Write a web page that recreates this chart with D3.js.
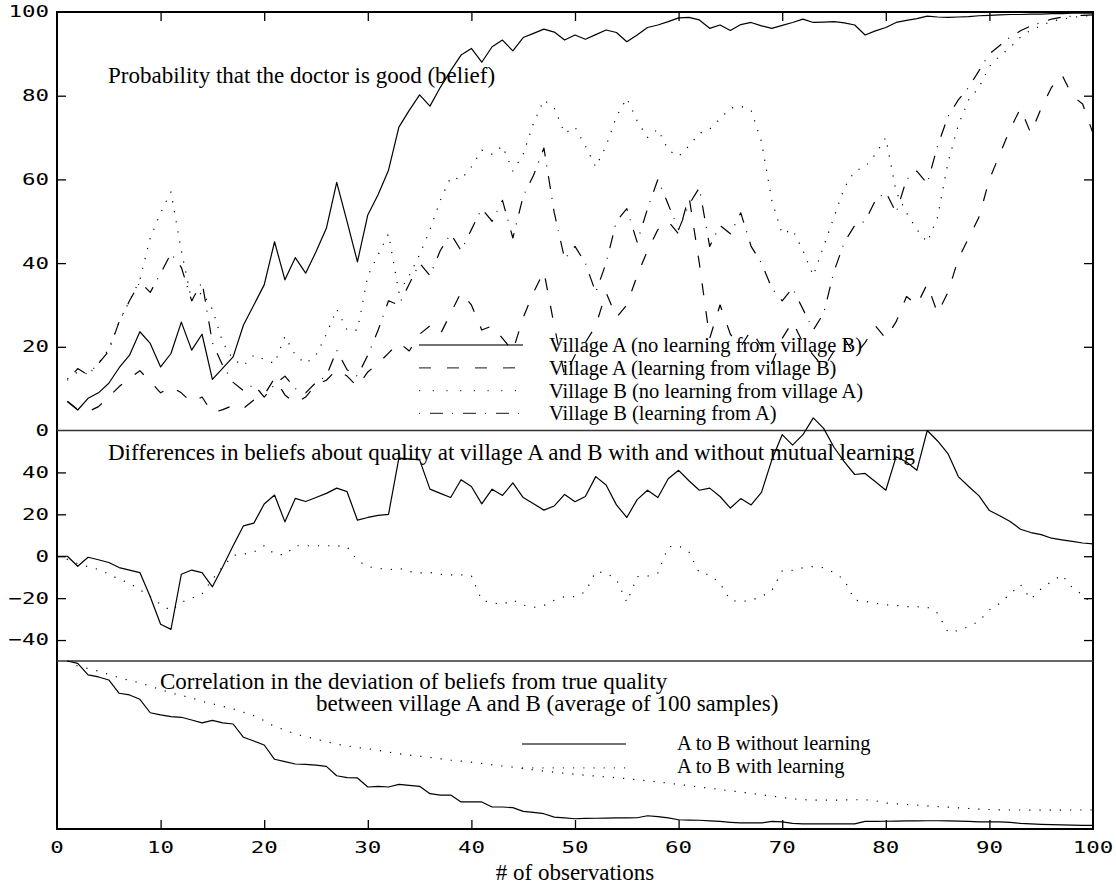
<!DOCTYPE html>
<html><head><meta charset="utf-8">
<script src="https://cdn.jsdelivr.net/npm/d3@7"></script>
<style>body{margin:0;background:#fff}svg{display:block}</style>
</head><body><svg id="c" width="1116" height="886"></svg>
<script>
// ---------------- data ----------------
const observations = d3.range(0, 101);
const xTickValues = [0,10,20,30,40,50,60,70,80,90,100];
const topTickValues = [0,20,40,60,80,100];
const midTickValues = [-40,-20,0,20,40];

const villageA_noLearning = [null,6.9,4.9,7.7,9,11.3,15,18,23.6,20.8,15.2,18.4,25.9,19.2,23,12.2,14.9,17.6,25.2,30,34.8,45.1,36,41.3,37.6,42.7,48.3,59.3,49.9,40.3,51.5,56.4,62.2,72.5,76.5,80.2,77.5,82,86,89.7,91.3,88,91.7,93.3,90.7,93.9,94.9,95.9,95.2,93.3,94.5,93.5,94.6,95.7,95.1,92.9,94.5,96.3,96.9,97.7,98.6,98.7,98.1,96.1,96.9,95.6,97,97.5,96.7,96.1,96.8,97.5,98.3,97.5,97.6,97.7,97.4,96.9,94.5,95.5,96.3,97.5,98,98.4,99,98.8,98.7,98.8,98.9,99.1,99.2,99.3,99.4,99.4,99.5,99.5,99.6,99.6,99.7,99.7,99.7];
const villageA_learning = [null,7,5,4.5,5.7,8,10.5,12.5,14.3,11.7,9,10.5,9,6.7,8,4.2,5,6,5.3,7.3,8.5,12.5,8.5,6.5,8,11,12,14.5,13,10.5,14,16,18.5,21,19,23,25,23,28,33,30,24,25,22,19,27,33,38,25,13,18,21,25,33,27,30,37,43,48,50,47,56,40,22,30,23,20,24,20,16,22,26,21,18,15,19,22,18,21,25,22,26,32,30,35,28,33,41,46,51,60,66,72,77,71,77,82,85,80,78,71];
const villageB_noLearning = [null,12.3,14,13.5,16,19.5,26,31,36,46,52,57,43,31,33,29,21,17,15.5,18,17,16,22.5,18,16,18,23,29,24,24,37,42,47,33,37,42,48,55,60.5,60,63,67,66,68,62,66,73.5,79,77,71,72.5,68,63,68,75,79.4,74,70,72,67,65.5,68,71,72,74.5,77,77.5,76.5,69,55,47,48,43,37,44,51,58,62,63,66,70,57,52,48,45,51,64,73,79,82,87,89.5,91.5,94,95.7,96.7,97.8,98.3,98.7,99,99.2];
const villageB_learning = [null,12,14.8,13.3,16,19,26,31,35.5,33,37.5,42.3,39,31,35.5,21,15.5,11.5,9.5,11,8,11,13,10,9,11.5,13,19.2,14.5,13,18,24,31,30,35,40,37,43,47,43,48,53,50,55,46,56,61,67.5,52,41,44,40,33,40,50,53,45,53,60,54,48,54,58,44,49,47,52,44,40,34,31,34,29,24,28,38,45,49,50,55,57,52,60,62,59,68,75,79,82,86,90,92,94,95.5,96.7,97.5,98.3,98.8,99,99.2,99.3];

const diffNoLearning = [0,0,-4.8,-0.5,-1.7,-3,-5.4,-6.6,-7.8,-19.3,-32.5,-34.9,-8.6,-6.6,-7.8,-14.6,-5,5,14.5,15.8,24.9,29.2,16.4,27.6,26.1,28,30,32.5,30.8,17.2,18.5,19.5,20,46.8,46.5,46,32,30,28,36.5,33.3,25,32,29,35,28,25,22,24,29.5,26,28.5,38,34,24.5,18.5,27,31.5,28,37,41,36,31.5,32.5,28.5,23,27.5,24.5,30.5,46,58,53,58,66,61,52,45,39,39.5,35.5,31.5,47.5,45,41,60,55,49,38,33.3,28.8,21.8,19.3,16.6,12.9,11.3,10.3,8.6,7.8,7.1,6.3,5.9];
const diffLearning = [0,-1.5,-3.5,-5,-6.3,-8.5,-11,-12.8,-16,-19.3,-23,-26,-22,-20,-18,-11,-5,0.4,1,2,5,1,0.6,5,5,5,5,5,4.5,-2,-5,-5.7,-6.5,-5.7,-7.3,-8,-7.8,-8.6,-8.9,-8.9,-9.4,-21,-22.2,-23,-20.9,-23.3,-24.4,-23.5,-21,-19.3,-19.3,-17,-7.3,-8,-11,-22,-9.7,-9.5,-8,4.5,5,2,-8,-8.9,-13,-21,-21.7,-21,-19.3,-16.4,-7,-6.7,-5.5,-4.9,-5.5,-7.8,-11.3,-21,-21.5,-22.5,-23.2,-23.5,-24,-24.1,-24.3,-27.2,-36.2,-35.5,-33.5,-31,-25.6,-22.5,-18,-13.5,-20.5,-15.5,-12.1,-8.9,-15,-18.5,-23];

const corrNoLearning = [null,1.0,0.986,0.917,0.905,0.887,0.808,0.798,0.772,0.692,0.679,0.669,0.665,0.649,0.632,0.647,0.632,0.625,0.546,0.524,0.5,0.415,0.401,0.387,0.385,0.38,0.373,0.317,0.306,0.304,0.25,0.254,0.25,0.266,0.26,0.254,0.21,0.202,0.202,0.161,0.161,0.161,0.131,0.131,0.127,0.105,0.099,0.091,0.071,0.066,0.061,0.063,0.064,0.065,0.066,0.066,0.067,0.079,0.074,0.066,0.055,0.053,0.052,0.048,0.045,0.04,0.036,0.036,0.036,0.045,0.042,0.034,0.03,0.03,0.03,0.03,0.03,0.031,0.045,0.045,0.046,0.047,0.048,0.048,0.049,0.049,0.048,0.047,0.045,0.043,0.042,0.042,0.039,0.033,0.031,0.028,0.026,0.024,0.023,0.022,0.021];
const corrLearning = [null,1.0,0.97,0.955,0.94,0.92,0.9,0.885,0.87,0.85,0.83,0.81,0.795,0.78,0.76,0.745,0.73,0.715,0.695,0.675,0.645,0.61,0.59,0.565,0.55,0.535,0.52,0.505,0.495,0.485,0.478,0.468,0.458,0.448,0.44,0.433,0.426,0.418,0.41,0.404,0.398,0.39,0.382,0.375,0.368,0.36,0.352,0.345,0.338,0.332,0.326,0.32,0.315,0.31,0.305,0.3,0.293,0.287,0.28,0.273,0.265,0.258,0.25,0.243,0.235,0.227,0.22,0.212,0.204,0.196,0.188,0.18,0.175,0.172,0.172,0.172,0.173,0.174,0.174,0.168,0.155,0.15,0.146,0.142,0.138,0.134,0.13,0.126,0.122,0.118,0.116,0.114,0.113,0.113,0.112,0.112,0.112,0.113,0.113,0.113,0.113];

const topLegend = ["Village A (no learning from village B)","Village A (learning from village B)","Village B (no learning from village A)","Village B (learning from A)"];
const bottomLegend = ["A to B without learning","A to B with learning"];

// ---------------- drawing ----------------
const svg = d3.select('#c');
const SERIF = '"Liberation Serif","Times New Roman",Times,serif';
const MONO = '"DejaVu Sans Mono",monospace';
const DASH = {solid:null, dashed:'12,16', dotted:'1.2,9', dashdot:'1,10,13,9'};

const x = d3.scaleLinear().domain([0,100]).range([57,1093]);
const yTop = d3.scaleLinear().domain([0,100]).range([430.5,12]);
const yMid = d3.scaleLinear().domain([-50,60]).range([661,430.5]);
const yBot = d3.scaleLinear().domain([0,1]).range([829,661]);

// axes ticks (inward)
function tickAxis(axis, tx, ty){
  const g = svg.append('g').attr('transform',`translate(${tx},${ty})`).call(axis);
  g.select('.domain').remove();
  g.selectAll('.tick line').attr('stroke','#000').attr('stroke-width',1.3);
  g.selectAll('.tick text').remove();
}
const inner = [10,20,30,40,50,60,70,80,90];
tickAxis(d3.axisTop(x).tickValues(inner).tickSize(-9).tickFormat(''), 0, yTop(100));
tickAxis(d3.axisBottom(x).tickValues(inner).tickSize(-9).tickFormat(''), 0, yBot(0));
tickAxis(d3.axisLeft(yTop).tickValues([20,40,60,80]).tickSize(-9).tickFormat(''), x(0), 0);
tickAxis(d3.axisRight(yTop).tickValues([20,40,60,80]).tickSize(-9).tickFormat(''), x(100), 0);
tickAxis(d3.axisLeft(yMid).tickValues(midTickValues).tickSize(-9).tickFormat(''), x(0), 0);
tickAxis(d3.axisRight(yMid).tickValues(midTickValues).tickSize(-9).tickFormat(''), x(100), 0);

// frame and separators
svg.append('rect').attr('x',x(0)).attr('y',yTop(100)).attr('width',x(100)-x(0)).attr('height',yBot(0)-yTop(100))
  .attr('fill','none').attr('stroke','#000').attr('stroke-width',2);
[yTop(0), yMid(-50)].forEach(yy=>{
  svg.append('line').attr('x1',x(0)).attr('x2',x(100)).attr('y1',yy).attr('y2',yy)
    .attr('stroke','#333').attr('stroke-width',1.3);
});

// mono tick labels (wide, stretched)
function monoLabel(px, py, txt, anchor){
  svg.append('text').attr('transform',`translate(${px},${py}) scale(1.36,1)`)
    .attr('text-anchor',anchor).attr('dominant-baseline','central')
    .style('font-family',MONO).style('font-size','16.5px').attr('fill','#000').text(txt);
}
const fmt = v => (v<0 ? '\u2212'+Math.abs(v) : String(v));
topTickValues.forEach(v=>monoLabel(49, yTop(v), fmt(v), 'end'));
midTickValues.forEach(v=>monoLabel(49, yMid(v), fmt(v), 'end'));
xTickValues.forEach(v=>monoLabel(x(v), 848, fmt(v), 'middle'));

// serif texts
function serif(px, py, txt, anchor, size){
  svg.append('text').attr('x',px).attr('y',py).attr('text-anchor',anchor||'start')
    .style('font-family',SERIF).style('font-size',(size||23)+'px').attr('fill','#000').text(txt);
}
serif(108, 83, 'Probability that the doctor is good (belief)');
serif(108, 460, 'Differences in beliefs about quality at village A and B with and without mutual learning');
serif(160, 689, 'Correlation in the deviation of beliefs from true quality');
serif(316, 711, 'between village A and B (average of 100 samples)');
serif(x(50), 880, '# of observations', 'middle');

// top legend
const topStyles = ['solid','dashed','dotted','dashdot'];
const topBase = [352, 374.8, 397.6, 420.4];
topLegend.forEach((t,i)=>{
  const ly = topBase[i]-7;
  svg.append('line').attr('x1',419).attr('x2',523).attr('y1',ly).attr('y2',ly)
    .attr('stroke','#444').attr('stroke-width',1.3).attr('stroke-dasharray', i===2 ? '1.2,12.5' : DASH[topStyles[i]]);
  serif(549, topBase[i], t, 'start', 20.5);
});
// bottom legend
const botBase = [750, 772.8];
bottomLegend.forEach((t,i)=>{
  const ly = botBase[i]-(i?5:6);
  svg.append('line').attr('x1',522).attr('x2',626).attr('y1',ly).attr('y2',ly)
    .attr('stroke','#444').attr('stroke-width',1.3).attr('stroke-dasharray', i ? '1.2,9' : null);
  serif(677, botBase[i], t, 'start', 20.5);
});

// data lines
function series(data, yScale, style){
  const line = d3.line().defined(d=>d!=null).x((d,i)=>x(observations[i])).y(d=>yScale(d));
  svg.append('path').datum(data).attr('d',line).attr('fill','none').attr('stroke','#000')
    .attr('stroke-width',1.2).attr('stroke-linejoin','round')
    .attr('stroke-dasharray',DASH[style]);
}
series(villageA_noLearning, yTop, 'solid');
series(villageA_learning, yTop, 'dashed');
series(villageB_noLearning, yTop, 'dotted');
series(villageB_learning, yTop, 'dashdot');
series(diffNoLearning, yMid, 'solid');
series(diffLearning, yMid, 'dotted');
series(corrNoLearning, yBot, 'solid');
series(corrLearning, yBot, 'dotted');
</script></body></html>
